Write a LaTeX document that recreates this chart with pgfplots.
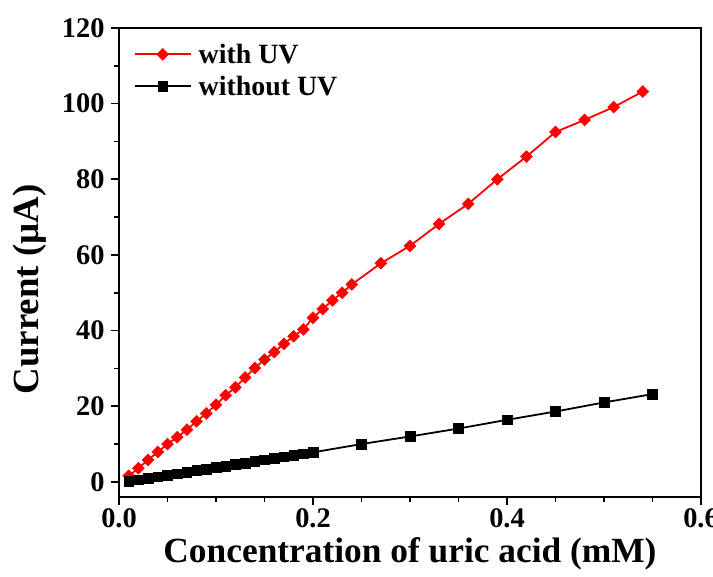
\documentclass[border=0pt]{standalone}
\usepackage{pgfplots}
\pgfplotsset{compat=1.18}
\usepackage{fontspec}
\setmainfont{Liberation Serif}
\begin{document}
\begin{tikzpicture}
\begin{axis}[
  at={(0,0)}, anchor=south west,
  scale only axis, width=582bp, height=469bp,
  xmin=0, xmax=0.6, ymin=-4, ymax=120,
  xtick={0,0.2,0.4,0.6}, minor x tick num=3,
  ytick={0,20,40,60,80,100,120}, minor y tick num=1,
  xtick pos=bottom, ytick pos=left,
  tick align=outside,
  major tick length=8bp, minor tick length=5bp,
  every tick/.style={black, line width=1.6bp},
  axis line style={line width=2.6bp},
  /pgf/number format/assume math mode=true,
  xticklabel style={/pgf/number format/.cd, fixed, fixed zerofill, precision=1},
  yticklabel style={xshift=-3bp},
  tick label style={font=\fontsize{28.5}{32}\selectfont\bfseries},
  xlabel={Concentration of uric acid (mM)},
  ylabel={Current (\textmu A)},
  every axis x label/.style={at={(axis description cs:0.5,-0.122)}, anchor=center, font=\fontsize{35.5}{40}\selectfont\bfseries},
  every axis y label/.style={at={(axis description cs:-0.153,0.443)}, anchor=center, rotate=90, font=\fontsize{37}{42}\selectfont\bfseries},
  legend style={draw=none, fill=none, at={(rel axis cs:0.02,0.975)}, anchor=north west,
    font=\fontsize{28}{32}\selectfont\bfseries, row sep=7bp,
    /tikz/every odd column/.append style={column sep=5bp}},
  legend cell align=left,
  legend image code/.code={\draw[mark repeat=2,mark phase=2,#1] plot coordinates {(0bp,0bp) (28bp,0bp) (56bp,0bp)};},
]
\addplot[red, line width=1.8bp, mark=square*, mark size=4.2bp, mark options={rotate=45, fill=red, draw=red, line width=0.5bp}] coordinates {
(0.01,1.6)(0.02,3.6)(0.03,5.8)(0.04,7.9)(0.05,10.0)(0.06,11.8)(0.07,13.8)(0.08,16.0)
(0.09,18.1)(0.10,20.4)(0.11,22.9)(0.12,25.0)(0.13,27.6)(0.14,30.1)(0.15,32.3)(0.16,34.3)
(0.17,36.5)(0.18,38.5)(0.19,40.3)(0.20,43.4)(0.21,45.7)(0.22,48.0)(0.23,50.0)(0.24,52.2)
(0.27,57.8)(0.30,62.4)(0.33,68.2)(0.36,73.5)(0.39,80.0)(0.42,86.0)(0.45,92.5)(0.48,95.7)
(0.51,99.1)(0.54,103.2)};
\addlegendentry{with UV}
\addplot[black, line width=1.8bp, mark=square*, mark size=4.8bp, mark options={fill=black, line width=0.5bp}] coordinates {
(0.01,0.2)(0.02,0.6)(0.03,1.0)(0.04,1.4)(0.05,1.8)(0.06,2.2)(0.07,2.6)(0.08,3.0)
(0.09,3.4)(0.10,3.8)(0.11,4.2)(0.12,4.6)(0.13,5.0)(0.14,5.4)(0.15,5.8)(0.16,6.2)
(0.17,6.6)(0.18,7.0)(0.19,7.4)(0.20,7.8)(0.25,10.0)(0.30,12.0)(0.35,14.1)(0.40,16.4)
(0.45,18.6)(0.50,21.0)(0.55,23.2)};
\addlegendentry{without UV}
\end{axis}
\pgfresetboundingbox
\path[use as bounding box] (-119bp,-80bp) rectangle (594bp,497bp);
\end{tikzpicture}
\end{document}
